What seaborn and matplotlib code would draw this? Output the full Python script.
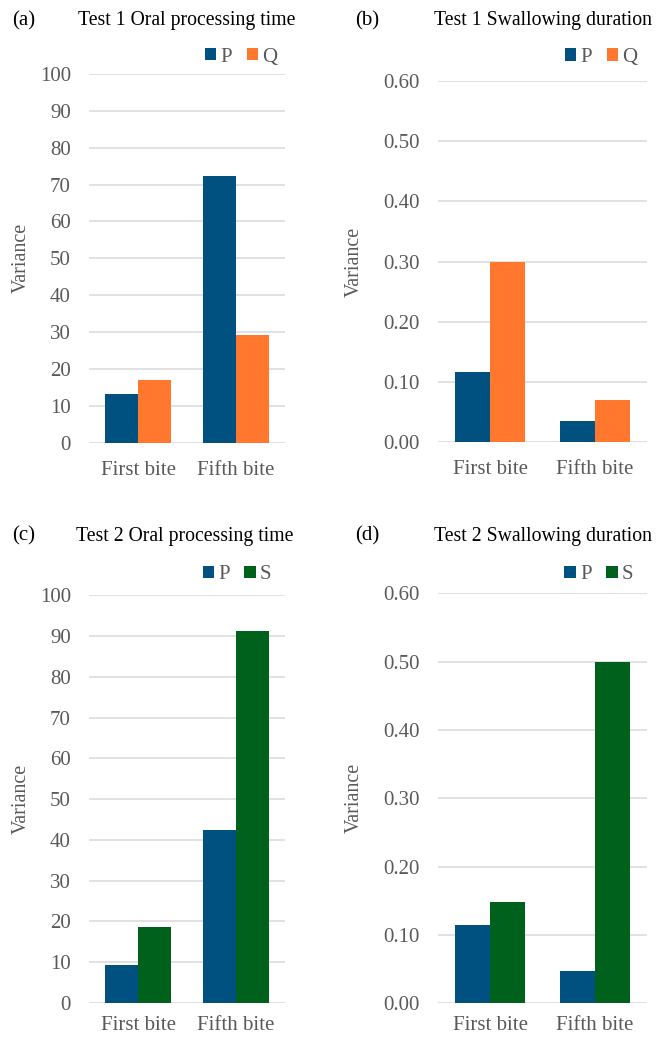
import matplotlib
matplotlib.use("Agg")
import matplotlib.pyplot as plt
import seaborn as sns
import pandas as pd
from matplotlib.ticker import FormatStrFormatter

# data
bites = ["First bite", "Fifth bite"]

t1_oral_P = [13.1, 72.3]
t1_oral_Q = [17.0, 29.2]
t1_swal_P = [0.117, 0.035]
t1_swal_Q = [0.300, 0.070]

t2_oral_P = [9.3, 42.4]
t2_oral_S = [18.6, 91.3]
t2_swal_P = [0.114, 0.047]
t2_swal_S = [0.148, 0.499]

BLUE = "#00517F"
ORANGE = "#FF782D"
GREEN = "#00611C"
GREY = "#595959"

sns.set_theme(style="white")
plt.rcParams["font.family"] = ["Liberation Serif", "DejaVu Serif"]


def make_df(vals1, vals2, name1, name2):
    rows = []
    for b, v in zip(bites, vals1):
        rows.append({"bite": b, "group": name1, "value": v})
    for b, v in zip(bites, vals2):
        rows.append({"bite": b, "group": name2, "value": v})
    return pd.DataFrame(rows)


def draw_panel(ax, df, names, colors, ymax, step, fmt, leg_xy, label_x, xpad):
    sns.barplot(data=df, x="bite", y="value", hue="group", hue_order=names,
                palette=colors, saturation=1, width=0.67, gap=0, linewidth=0,
                ax=ax, errorbar=None, legend=True)
    ax.set_ylim(0, ymax)
    ax.set_xlim(-0.5, 1.5)
    ticks = [i * step for i in range(int(round(ymax / step)) + 1)]
    ax.set_yticks(ticks)
    ax.yaxis.set_major_formatter(FormatStrFormatter(fmt))
    ax.grid(axis="y", color="#D9D9D9", linewidth=1.1)
    ax.set_axisbelow(True)
    for s in ax.spines.values():
        s.set_visible(False)
    ax.tick_params(axis="y", length=0, pad=13, labelsize=15, labelcolor=GREY)
    ax.tick_params(axis="x", length=0, pad=xpad, labelsize=15, labelcolor=GREY)
    ax.set_xlabel("")
    ax.set_ylabel("Variance", fontsize=14.5, color=GREY)
    ax.yaxis.set_label_coords(label_x, 0.5)
    handles, labels = ax.get_legend_handles_labels()
    ax.legend(handles, labels, loc="center", bbox_to_anchor=leg_xy, ncol=2,
              frameon=False, fontsize=15, handlelength=0.55, handleheight=0.55,
              handletextpad=0.2, columnspacing=0.7, labelcolor=GREY,
              borderaxespad=0, borderpad=0)


fig = plt.figure(figsize=(6.56, 10.38), dpi=100)
ax_a = fig.add_axes([0.1357, 0.5735, 0.2988, 0.3552])
ax_b = fig.add_axes([0.6677, 0.5739, 0.3186, 0.3481])
ax_c = fig.add_axes([0.1357, 0.0337, 0.2988, 0.3928])
ax_d = fig.add_axes([0.6677, 0.0334, 0.3186, 0.3950])

draw_panel(ax_a, make_df(t1_oral_P, t1_oral_Q, "P", "Q"), ["P", "Q"],
           [BLUE, ORANGE], 100, 10, "%d", (0.776, 1.046), -0.296, 13)
draw_panel(ax_b, make_df(t1_swal_P, t1_swal_Q, "P", "Q"), ["P", "Q"],
           [BLUE, ORANGE], 0.6, 0.1, "%.2f", (0.78, 1.066), -0.354, 13)
draw_panel(ax_c, make_df(t2_oral_P, t2_oral_S, "P", "S"), ["P", "S"],
           [BLUE, GREEN], 100, 10, "%d", (0.755, 1.05), -0.296, 9)
draw_panel(ax_d, make_df(t2_swal_P, t2_swal_S, "P", "S"), ["P", "S"],
           [BLUE, GREEN], 0.6, 0.1, "%.2f", (0.77, 1.045), -0.354, 9)

W, H = 656, 1038
titles = [
    ("(a)", 12, 21, "Test 1 Oral processing time", 187, 21),
    ("(b)", 355, 21, "Test 1 Swallowing duration", 543, 21),
    ("(c)", 12, 536, "Test 2 Oral processing time", 185, 536),
    ("(d)", 355, 536, "Test 2 Swallowing duration", 543, 536),
]
for lab, lx, ly, title, tx, ty in titles:
    fig.text(lx / W, 1 - ly / H, lab, fontsize=15, ha="left", va="center", color="black")
    fig.text(tx / W, 1 - ty / H, title, fontsize=14.2, ha="center", va="center", color="black")

fig.savefig("out.png", dpi=100)
